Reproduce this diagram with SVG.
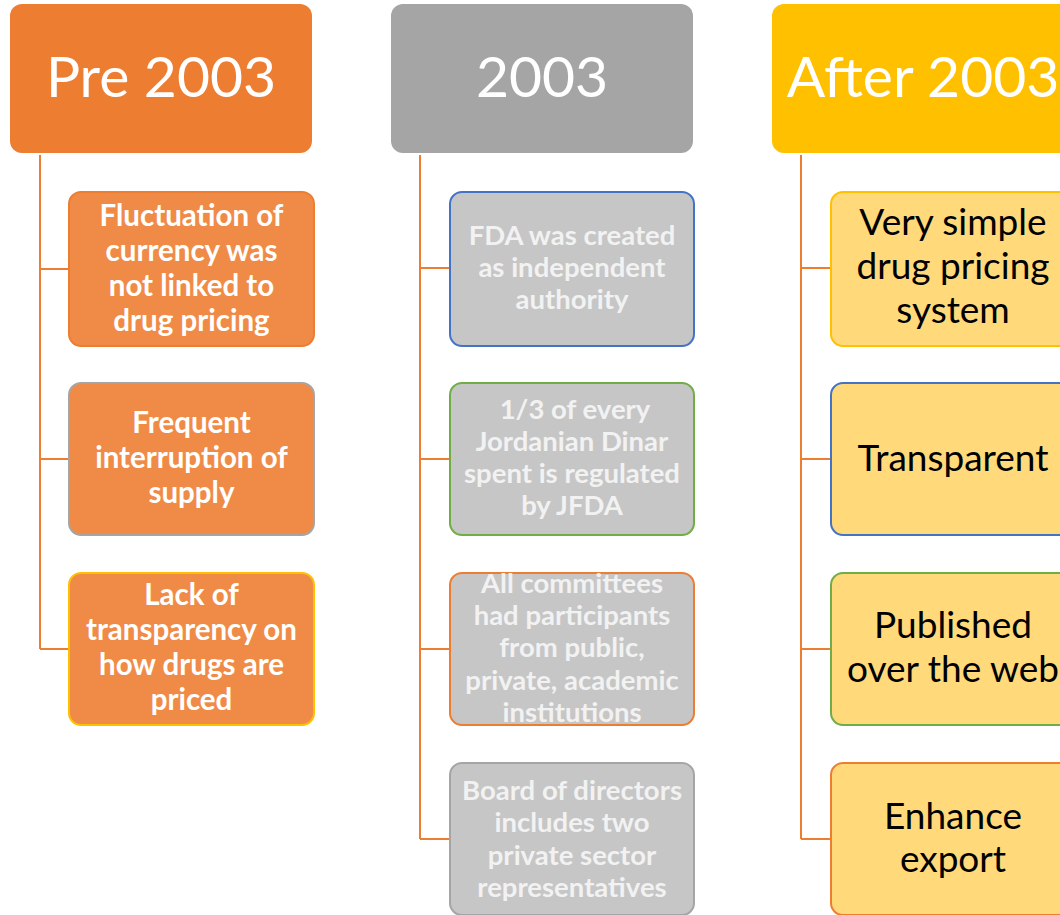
<svg xmlns="http://www.w3.org/2000/svg" width="1060" height="915" viewBox="0 0 1060 915">
<style>
.hdr{font-family:Lato,"Open Sans",sans-serif;font-size:57px;fill:#FFFFFF;text-anchor:middle}
.t1{font-family:Lato,"Open Sans",sans-serif;font-size:29.5px;font-weight:bold;fill:#FFFFFF;text-anchor:middle}
.t2{font-family:Lato,"Open Sans",sans-serif;font-size:27.5px;font-weight:bold;fill:#F2F2F2;text-anchor:middle}
.t3{font-family:Lato,"Open Sans",sans-serif;font-size:37px;fill:#000000;text-anchor:middle}
.b1{fill:#F08B47;stroke-width:2}
.b2{fill:#C6C6C6;stroke-width:2}
.b3{fill:#FFD97A;stroke-width:2}
.conn{fill:none;stroke:#ED7D31;stroke-width:2}
</style>
<rect width="1060" height="915" fill="#FFFFFF"/>
<g id="connectors">
<path class="conn" d="M40 155 V649 M40 269 H69 M40 459 H69 M40 649 H69"/>
<path class="conn" d="M420 155 V839 M420 268 H450 M420 459 H450 M420 649 H450 M420 839 H450"/>
<path class="conn" d="M801 155 V839 M801 268 H831 M801 459 H831 M801 649 H831 M801 839 H831"/>
</g>
<g id="hdr-pre2003">
<rect x="10" y="4" width="302" height="149" rx="12" fill="#ED7D31"/>
<text class="hdr" x="161" y="97">Pre 2003</text>
</g>
<g id="hdr-2003">
<rect x="391" y="4" width="302" height="149" rx="12" fill="#A5A5A5"/>
<text class="hdr" x="542" y="97">2003</text>
</g>
<g id="hdr-after2003">
<rect x="772" y="4" width="302" height="149" rx="12" fill="#FFC000"/>
<text class="hdr" x="923" y="97">After 2003</text>
</g>
<g id="n1-1">
<rect class="b1" x="69" y="192" width="245" height="154" rx="12" stroke="#ED7D31"/>
<text class="t1"><tspan x="191.5" y="226">Fluctuation of</tspan><tspan x="191.5" y="261">currency was</tspan><tspan x="191.5" y="296">not linked to</tspan><tspan x="191.5" y="331">drug pricing</tspan></text>
</g>
<g id="n1-2">
<rect class="b1" x="69" y="383" width="245" height="152" rx="12" stroke="#A5A5A5"/>
<text class="t1"><tspan x="191.5" y="433">Frequent</tspan><tspan x="191.5" y="468">interruption of</tspan><tspan x="191.5" y="503">supply</tspan></text>
</g>
<g id="n1-3">
<rect class="b1" x="69" y="573" width="245" height="152" rx="12" stroke="#FFC000"/>
<text class="t1"><tspan x="191.5" y="605">Lack of</tspan><tspan x="191.5" y="640">transparency on</tspan><tspan x="191.5" y="675">how drugs are</tspan><tspan x="191.5" y="710">priced</tspan></text>
</g>
<g id="n2-1">
<rect class="b2" x="450" y="192" width="244" height="154" rx="12" stroke="#4472C4"/>
<text class="t2"><tspan x="572" y="245">FDA was created</tspan><tspan x="572" y="277">as independent</tspan><tspan x="572" y="309">authority</tspan></text>
</g>
<g id="n2-2">
<rect class="b2" x="450" y="383" width="244" height="152" rx="12" stroke="#70AD47"/>
<text class="t2"><tspan x="575" y="419">1/3 of every</tspan><tspan x="572" y="451">Jordanian Dinar</tspan><tspan x="572" y="483">spent is regulated</tspan><tspan x="572" y="515">by JFDA</tspan></text>
</g>
<g id="n2-3">
<rect class="b2" x="450" y="573" width="244" height="152" rx="12" stroke="#ED7D31"/>
<text class="t2"><tspan x="572" y="593">All committees</tspan><tspan x="572" y="625">had  participants</tspan><tspan x="572" y="657">from public,</tspan><tspan x="572" y="690">private, academic</tspan><tspan x="572" y="722">institutions</tspan></text>
</g>
<g id="n2-4">
<rect class="b2" x="450" y="763" width="244" height="152" rx="12" stroke="#A5A5A5"/>
<text class="t2"><tspan x="572" y="800">Board of directors</tspan><tspan x="572" y="832">includes two</tspan><tspan x="572" y="865">private sector</tspan><tspan x="572" y="897">representatives</tspan></text>
</g>
<g id="n3-1">
<rect class="b3" x="831" y="192" width="244" height="154" rx="12" stroke="#FFC000"/>
<text class="t3"><tspan x="953" y="235">Very simple</tspan><tspan x="953" y="279">drug pricing</tspan><tspan x="953" y="323">system</tspan></text>
</g>
<g id="n3-2">
<rect class="b3" x="831" y="383" width="244" height="152" rx="12" stroke="#4472C4"/>
<text class="t3"><tspan x="953" y="471">Transparent</tspan></text>
</g>
<g id="n3-3">
<rect class="b3" x="831" y="573" width="244" height="152" rx="12" stroke="#70AD47"/>
<text class="t3"><tspan x="953" y="638">Published</tspan><tspan x="953" y="682">over the web</tspan></text>
</g>
<g id="n3-4">
<rect class="b3" x="831" y="763" width="244" height="152" rx="12" stroke="#ED7D31"/>
<text class="t3"><tspan x="953" y="829">Enhance</tspan><tspan x="953" y="872">export</tspan></text>
</g>
</svg>
